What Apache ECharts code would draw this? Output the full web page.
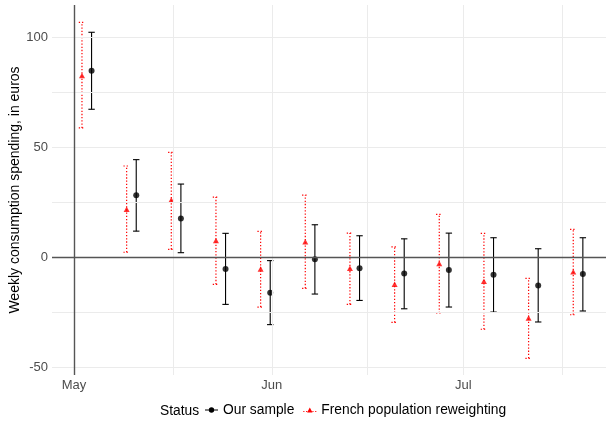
<!DOCTYPE html>
<html>
<head>
<meta charset="utf-8">
<script src="https://cdn.jsdelivr.net/npm/echarts@6/dist/echarts.min.js"></script>
<style>html,body{margin:0;padding:0;background:#fff}#c{width:608px;height:423px}</style>
</head>
<body>
<div id="c"></div>
<script>
// ---- data ----
const weeks = ['2020-05-03','2020-05-10','2020-05-17','2020-05-24','2020-05-31','2020-06-07','2020-06-14','2020-06-21','2020-06-28','2020-07-05','2020-07-12','2020-07-19'];
const sampleMean = [84.9, 28.3, 17.8, -5.2, -16.0, -0.8, -4.9, -7.3, -5.7, -7.8, -12.7, -7.5];
const sampleLow  = [67.4, 12.0, 2.2, -21.3, -30.5, -16.6, -19.5, -23.3, -22.5, -24.8, -29.3, -24.3];
const sampleHigh = [102.4, 44.5, 33.4, 11.0, -1.4, 14.9, 9.9, 8.5, 11.1, 9.0, 4.0, 9.0];
const frMean = [82.8, 22.0, 26.1, 7.7, -5.2, 7.2, -4.9, -12.2, -2.7, -10.8, -27.5, -6.5];
const frLow  = [58.9, 2.4, 3.7, -12.2, -22.5, -14.0, -21.3, -29.5, -25.2, -32.6, -45.8, -26.0];
const frHigh = [106.9, 41.6, 47.8, 27.5, 11.9, 28.4, 11.1, 4.8, 19.6, 11.0, -9.5, 12.8];
const seriesNames = ['Our sample', 'French population reweighting'];
const monthTicks = ['2020-05-01','2020-06-01','2020-07-01'];
const monthLabels = ['May','Jun','Jul'];
const minorDates = ['2020-05-16T12:00:00Z','2020-06-16T00:00:00Z','2020-07-16T12:00:00Z'];
const yTicks = [-50, 0, 50, 100];
const yMinor = [-25, 25, 75];
const refDate = '2020-05-01';

// ---- helpers ----
const DAY = 86400000;
const t = s => Date.parse(s.length === 10 ? s + 'T00:00:00Z' : s);
const FONT = "'Liberation Sans', Arial, Helvetica, sans-serif";
const DODGE = 4.8;

function errRender(dodge, color, dashed) {
  return function (params, api) {
    const x = api.value(0);
    const pLo = api.coord([x, api.value(1)]);
    const pHi = api.coord([x, api.value(2)]);
    const cx = pLo[0] + dodge;
    const st = { stroke: color, lineWidth: dashed ? 1.2 : 1.1, lineDash: dashed ? [1.3, 1.9] : null };
    const cap = 3.2;
    return {
      type: 'group',
      children: [
        { type: 'line', shape: { x1: cx, y1: pLo[1], x2: cx, y2: pHi[1] }, style: st },
        { type: 'line', shape: { x1: cx - cap, y1: pLo[1], x2: cx + cap, y2: pLo[1] }, style: st },
        { type: 'line', shape: { x1: cx - cap, y1: pHi[1], x2: cx + cap, y2: pHi[1] }, style: st }
      ]
    };
  };
}

const chart = echarts.init(document.getElementById('c'), null, { renderer: 'canvas' });
const may1 = t(refDate);
const monthTickVals = monthTicks.map(t);

const gridLineStyle = { color: '#ebebeb', width: 1, type: 'solid' };
const gridMarks = []
  .concat(monthTicks.map(d => ({ xAxis: t(d) })))
  .concat(minorDates.map(d => ({ xAxis: t(d) })))
  .concat(yTicks.map(v => ({ yAxis: v })))
  .concat(yMinor.map(v => ({ yAxis: v })));

const option = {
  animation: false,
  textStyle: { fontFamily: FONT },
  grid: { left: 52, right: 2, top: 5, bottom: 48, containLabel: false, outerBoundsMode: 'none' },
  xAxis: {
    type: 'value',
    min: may1 - 3.45 * DAY,
    max: may1 + 83.38 * DAY,
    axisLine: { show: false },
    axisTick: { show: false },
    splitLine: { show: false },
    axisLabel: {
      customValues: monthTickVals,
      formatter: v => { const i = monthTickVals.indexOf(v); return i >= 0 ? monthLabels[i] : ''; },
      color: '#4d4d4d', fontSize: 13, margin: 4, fontFamily: FONT
    }
  },
  yAxis: {
    type: 'value',
    min: -53.4,
    max: 114.8,
    axisLine: { show: false },
    axisTick: { show: false },
    splitLine: { show: false },
    axisLabel: { customValues: yTicks, color: '#4d4d4d', fontSize: 13, margin: 4, fontFamily: FONT },
    name: 'Weekly consumption spending, in euros',
    nameLocation: 'middle',
    nameGap: 30,
    nameMoveOverlap: false,
    nameTextStyle: { color: '#000', fontSize: 14, fontFamily: FONT }
  },
  legend: {
    left: 205,
    top: 403,
    padding: 0,
    itemGap: 9,
    textStyle: { color: '#000', fontSize: 13.8, fontFamily: FONT },
    data: [
      { name: seriesNames[0], icon: 'path://M0,2.2H13V3.2H0Z M6.5,0A2.7,2.7 0 1 1 6.49,0Z' },
      { name: seriesNames[1], icon: 'path://M0,3.3h1.1v1h-1.1Z M2.8,3.3h1.1v1h-1.1Z M9.1,3.3h1.1v1h-1.1Z M11.9,3.3h1.1v1h-1.1Z M6.5,0L9.2,4.8L3.8,4.8Z' }
    ],
    itemWidth: 13,
    itemHeight: 5.4
  },
  graphic: [
    { type: 'text', x: 160, y: 411, style: { text: 'Status', fontSize: 13.8, fill: '#000', fontFamily: FONT, verticalAlign: 'middle' } }
  ],
  series: [
    {
      type: 'line', data: [], silent: true, z: 0,
      markLine: { silent: true, symbol: 'none', label: { show: false }, lineStyle: gridLineStyle, animation: false, data: gridMarks }
    },
    {
      type: 'line', data: [], silent: true, z: 1,
      markLine: {
        silent: true, symbol: 'none', label: { show: false }, animation: false,
        lineStyle: { color: '#555', width: 1.4, type: 'solid' },
        data: [{ xAxis: may1 }, { yAxis: 0 }]
      }
    },
    {
      type: 'custom', name: seriesNames[1], z: 2,
      renderItem: errRender(-DODGE, '#ff0000', true),
      encode: { x: 0, y: [1, 2] },
      itemStyle: { color: '#ff0000' },
      data: weeks.map((d, i) => [t(d), frLow[i], frHigh[i]])
    },
    {
      type: 'custom', name: seriesNames[0], z: 2,
      renderItem: errRender(DODGE, '#000', false),
      encode: { x: 0, y: [1, 2] },
      itemStyle: { color: '#000' },
      data: weeks.map((d, i) => [t(d), sampleLow[i], sampleHigh[i]])
    },
    {
      type: 'scatter', name: seriesNames[1], z: 3,
      symbol: 'triangle', symbolSize: [6, 5.5], symbolOffset: [-DODGE, 0],
      itemStyle: { color: '#ff0000' },
      data: weeks.map((d, i) => [t(d), frMean[i]])
    },
    {
      type: 'scatter', name: seriesNames[0], z: 3,
      symbol: 'circle', symbolSize: 6, symbolOffset: [DODGE, 0],
      itemStyle: { color: '#000' },
      data: weeks.map((d, i) => [t(d), sampleMean[i]])
    }
  ]
};
chart.setOption(option);
</script>
</body>
</html>
